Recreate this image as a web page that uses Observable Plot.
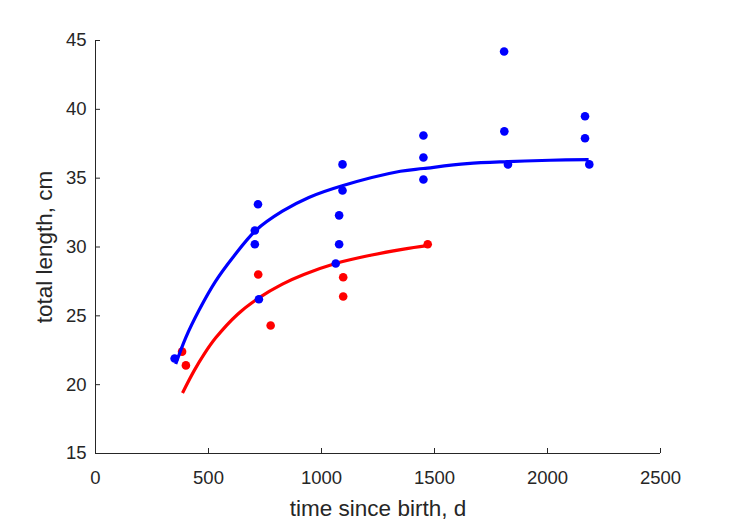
<!DOCTYPE html>
<html>
<head>
<meta charset="utf-8">
<script src="https://cdn.jsdelivr.net/npm/d3@7"></script>
<script src="https://cdn.jsdelivr.net/npm/@observablehq/plot@0.6"></script>
<style>
  html, body { margin: 0; padding: 0; background: #ffffff; }
  #chart { width: 729px; height: 521px; }
  #chart g[aria-label="x-axis label"], #chart g[aria-label="x-axis label"] text,
  #chart g[aria-label="y-axis label"], #chart g[aria-label="y-axis label"] text { font-size: 22.5px; }
</style>
</head>
<body>
<div id="chart"></div>
<script>
// Tick values
const xTicks = [0, 500, 1000, 1500, 2000, 2500];
const yTicks = [15, 20, 25, 30, 35, 40, 45];

// Observed points, blue group
const blueDays   = [350, 719, 705, 705, 723, 1093, 1093, 1078, 1078, 1063, 1451, 1451, 1451, 1808, 1809, 1825, 2166, 2166, 2185];
const blueLength = [21.9, 33.1, 31.2, 30.2, 26.2, 36.0, 34.1, 32.3, 30.2, 28.8, 38.1, 36.5, 34.9, 44.2, 38.4, 36.0, 39.5, 37.9, 36.0];

// Observed points, red group
const redDays   = [383, 400, 720, 775, 1096, 1096, 1470];
const redLength = [22.4, 21.4, 28.0, 24.3, 27.8, 26.4, 30.2];

// Fitted growth curve, blue
const blueFitDays   = [355, 399, 458, 531, 606, 709, 827, 944, 1092, 1349, 1451, 1644, 1826, 2012, 2182];
const blueFitLength = [21.5, 23.4, 25.4, 27.5, 29.2, 31.2, 32.6, 33.6, 34.45, 35.5, 35.7, 36.05, 36.2, 36.3, 36.35];

// Fitted growth curve, red
const redFitDays   = [385, 436, 480, 532, 628, 723, 827, 922, 1062, 1217, 1364, 1467];
const redFitLength = [19.4, 21.0, 22.2, 23.4, 25.1, 26.3, 27.3, 28.0, 28.8, 29.4, 29.85, 30.1];

const zipXY = (xs, ys) => xs.map((x, i) => ({x, y: ys[i]}));
const blue = zipXY(blueDays, blueLength);
const red = zipXY(redDays, redLength);
const blueFit = zipXY(blueFitDays, blueFitLength);
const redFit = zipXY(redFitDays, redFitLength);

const ink = "#262626";
const fmt = d3.format("d");

const chart = Plot.plot({
  width: 729,
  height: 521,
  marginLeft: 95,
  marginRight: 69,
  marginTop: 40,
  marginBottom: 68,
  style: {fontFamily: "'Liberation Sans', Arial, Helvetica, sans-serif", fontSize: "18.5px", color: ink, background: "#ffffff"},
  x: {domain: [0, 2500]},
  y: {domain: [15, 45]},
  marks: [
    Plot.ruleY([15], {stroke: ink, strokeWidth: 1}),
    Plot.ruleX([0], {stroke: ink, strokeWidth: 1}),
    Plot.axisX(xTicks, {tickSize: -5, tickPadding: 22, tickFormat: fmt, stroke: ink, fill: ink, fontSize: 18.5,
      label: "time since birth, d", labelAnchor: "center", labelOffset: 62, labelArrow: "none"}),
    Plot.axisY(yTicks, {tickSize: -5, tickPadding: 14, tickFormat: fmt, stroke: ink, fill: ink, fontSize: 18.5,
      label: "total length, cm", labelAnchor: "center", labelOffset: 59, labelArrow: "none"}),
    Plot.line(redFit, {x: "x", y: "y", stroke: "#ff0000", strokeWidth: 3.2, curve: "catmull-rom", strokeLinecap: "butt"}),
    Plot.dot(red, {x: "x", y: "y", r: 4.3, fill: "#ff0000", stroke: "none"}),
    Plot.dot(blue, {x: "x", y: "y", r: 4.3, fill: "#0000ff", stroke: "none"}),
    Plot.line(blueFit, {x: "x", y: "y", stroke: "#0000ff", strokeWidth: 3.2, curve: "catmull-rom", strokeLinecap: "butt"})
  ]
});
document.getElementById("chart").appendChild(chart);
</script>
</body>
</html>
